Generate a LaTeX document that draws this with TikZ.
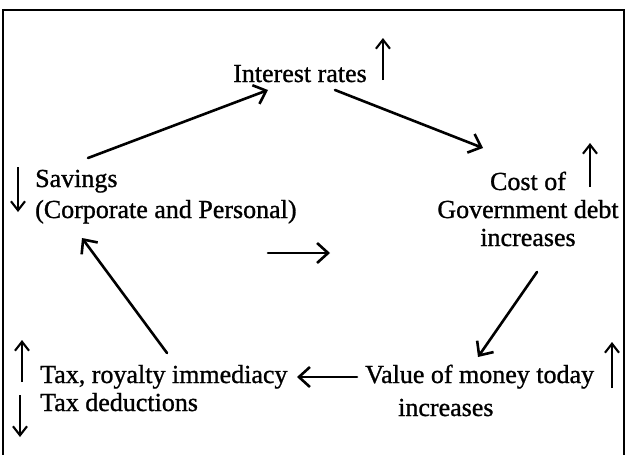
\documentclass[tikz,border=0pt]{standalone}
\usepackage{fontspec}
\setmainfont{Liberation Serif}
\newfontfamily\lblfont[FakeBold=1.0]{Liberation Serif}
\usetikzlibrary{arrows.meta,calc}
\begin{document}
\begin{tikzpicture}[x=1pt,y=-1pt,
  lbl/.style={inner sep=0pt, font=\lblfont\fontsize{26}{#1}\selectfont},
  lbl/.default=30,
  conn/.style={line width=2.6pt, line cap=round, -{Straight Barb[length=11pt,width=20pt]}},
  ind/.style={line width=2.1pt, -{Straight Barb[length=9pt,width=14pt]}},
  frame/.style={line width=1.5pt}]
\useasboundingbox (0,0) rectangle (630,455);
% open frame round the cycle
\draw[frame] (3,455) -- (3,10) -- (624,10) -- (624,455);

% labels of the cycle (base = baseline of the last line)
\node[lbl, anchor=base west] (int) at (233,82) {Interest rates};
\node[lbl=31, anchor=base west, align=left] (sav) at (35,218) {Savings\\(Corporate and Personal)};
\node[lbl=28, anchor=base, align=center] (cost) at (528,246) {Cost of\\Government debt\\increases};
\node[lbl=33, anchor=base west, align=left] (val) at (365,416) {Value of money today\\\hspace*{33pt}increases};
\node[lbl=28, anchor=base west, align=left] (tax) at (40,411) {Tax, royalty immediacy\\Tax deductions};

% links of the cycle
\draw[conn] ($(sav.base west)+(53,-60)$) -- ($(int.base west)+(35,8)$);
\draw[conn] ($(int.base west)+(102,8)$) -- ($(cost.base)+(-45,-98)$);
\draw[conn] ($(cost.base)+(9,26)$) -- ($(val.base west)+(113,-59)$);
\draw[conn] ($(val.base west)+(-8,-39)$) -- ($(tax.base west)+(257,-34)$);
\draw[conn] ($(tax.base west)+(127,-58)$) -- ($(sav.base west)+(47,20)$);

% free arrow in the middle
\coordinate (m1) at (268,253);
\coordinate (m2) at (330,253);
\draw[conn] (m1) -- (m2);

% rise and fall markers
\draw[ind] ($(int.base east)+(16,-2)$) -- ++(0,-42);
\draw[ind] ($(cost.base)+(62,-59)$) -- ++(0,-44);
\draw[ind] ($(sav.base west)+(-17,-51)$) -- ++(0,45);
\draw[ind] ($(val.base west)+(247,-28)$) -- ++(0,-46);
\draw[ind] ($(tax.base west)+(-18,-29)$) -- ++(0,-42);
\draw[ind] ($(tax.base west)+(-20,-16)$) -- ++(0,42);
\end{tikzpicture}
\end{document}
